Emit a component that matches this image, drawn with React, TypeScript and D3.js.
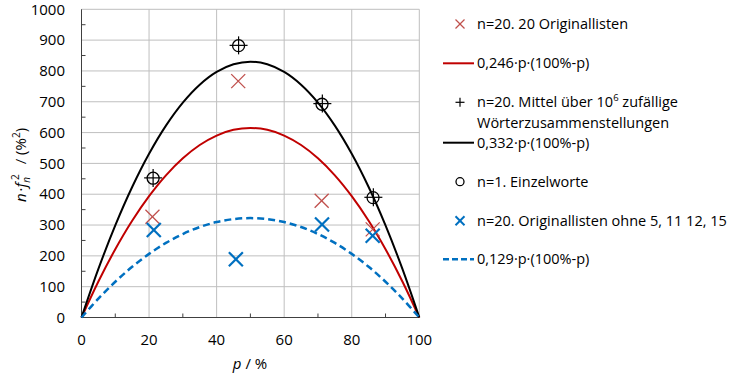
import React from "react";
import * as d3 from "d3";

const pGrid = [0, 5, 10, 15, 20, 25, 30, 35, 40, 45, 50, 55, 60, 65, 70, 75, 80, 85, 90, 95, 100];
const blackCurve = [0, 157.7, 298.8, 423.3, 531.2, 622.5, 697.2, 755.3, 796.8, 821.7, 830, 821.7, 796.8, 755.3, 697.2, 622.5, 531.2, 423.3, 298.8, 157.7, 0];
const redCurve = [0, 116.9, 221.4, 313.7, 393.6, 461.3, 516.6, 559.7, 590.4, 608.9, 615, 608.9, 590.4, 559.7, 516.6, 461.3, 393.6, 313.7, 221.4, 116.9, 0];
const blueCurve = [0, 61.3, 116.1, 164.5, 206.4, 241.9, 270.9, 293.5, 309.6, 319.3, 322.5, 319.3, 309.6, 293.5, 270.9, 241.9, 206.4, 164.5, 116.1, 61.3, 0];

const redP = [21.0, 46.4, 71.1, 86.2];
const redV = [327, 767, 379, 286];
const plusP = [21.2, 46.5, 71.3, 86.4];
const plusV = [453, 883, 694, 390];
const circP = [21.2, 46.5, 71.2, 86.3];
const circV = [452, 882, 692, 389];
const blueP = [21.4, 45.7, 71.2, 86.2];
const blueV = [284, 189, 302, 265];

const xTicks = [0, 20, 40, 60, 80, 100];
const xMinor = [10, 30, 50, 70, 90];
const yTicks = [0, 100, 200, 300, 400, 500, 600, 700, 800, 900, 1000];
const yMinor = [50, 150, 250, 350, 450, 550, 650, 750, 850, 950];

const legendLabels = [
  "n=20. 20 Originallisten",
  "0,246·p·(100%-p)",
  "n=20. Mittel über 10",
  "Wörterzusammenstellungen",
  "0,332·p·(100%-p)",
  "n=1. Einzelworte",
  "n=20. Originallisten ohne 5, 11 12, 15",
  "0,129·p·(100%-p)",
];

const RED_X = "#C0504D";
const RED = "#C00000";
const BLUE = "#0070C0";
const FONT = "'Open Sans', 'Liberation Sans', sans-serif";

export default function App() {
  const W = 739, H = 377;
  const x = d3.scaleLinear().domain([0, 100]).range([81.5, 419.3]);
  const y = d3.scaleLinear().domain([0, 1000]).range([317.5, 9.3]);
  const line = (vals: number[]) =>
    d3.line<number>().x((_, i) => x(pGrid[i])).y((v) => y(v)).curve(d3.curveCatmullRom)(vals) || "";

  const xMark = (cx: number, cy: number, r: number, color: string, w: number, key: string) => (
    <g key={key} stroke={color} strokeWidth={w}>
      <line x1={cx - r} y1={cy - r} x2={cx + r} y2={cy + r} />
      <line x1={cx - r} y1={cy + r} x2={cx + r} y2={cy - r} />
    </g>
  );
  const plusMark = (cx: number, cy: number, r: number, key: string) => (
    <g key={key} stroke="#000" strokeWidth={1.2}>
      <line x1={cx - r} y1={cy} x2={cx + r} y2={cy} />
      <line x1={cx} y1={cy - r} x2={cx} y2={cy + r} />
    </g>
  );

  const lx = 477;
  const rows = [24, 63.3, 102.3, 122.7, 142.7, 181.7, 220.7, 259.3];

  return (
    <svg width={W} height={H} style={{ position: "absolute", left: 0, top: 0 }} fontFamily={FONT}>
      <rect width={W} height={H} fill="#fff" />
      {yTicks.map((t) => (
        <line key={"gy" + t} x1={x(0)} x2={x(100)} y1={y(t)} y2={y(t)} stroke="#BFBFBF" strokeWidth={1} />
      ))}
      {xTicks.map((t) => (
        <line key={"gx" + t} x1={x(t)} x2={x(t)} y1={y(0)} y2={y(1000)} stroke="#BFBFBF" strokeWidth={1} />
      ))}
      <line x1={x(0)} x2={x(100)} y1={y(0)} y2={y(0)} stroke="#404040" strokeWidth={1} />
      <line x1={x(0)} x2={x(0)} y1={y(0)} y2={y(1000)} stroke="#404040" strokeWidth={1} />
      {xMinor.map((t) => (
        <line key={"xm" + t} x1={x(t)} x2={x(t)} y1={y(0)} y2={y(0) - 4} stroke="#404040" strokeWidth={1} />
      ))}
      {yMinor.map((t) => (
        <line key={"ym" + t} x1={x(0)} x2={x(0) + 4} y1={y(t)} y2={y(t)} stroke="#404040" strokeWidth={1} />
      ))}
      {yTicks.map((t) => (
        <text key={"yl" + t} x={65} y={y(t)} dy="0.35em" textAnchor="end" fontSize={15} fill="#000">{t}</text>
      ))}
      {xTicks.map((t) => (
        <text key={"xl" + t} x={x(t)} y={345} textAnchor="middle" fontSize={15} fill="#000">{t}</text>
      ))}
      <text x={250} y={369} textAnchor="middle" fontSize={15}>
        <tspan fontStyle="italic">p</tspan> / %
      </text>
      <text transform="translate(26,165) rotate(-90)" textAnchor="middle" fontSize={15}>
        <tspan fontStyle="italic">n</tspan>
        <tspan dx={2}>·</tspan>
        <tspan fontStyle="italic">f</tspan>
        <tspan fontStyle="italic" fontSize={10} dy={4}>n</tspan>
        <tspan fontSize={10} dy={-11} dx={-3}>2</tspan>
        <tspan dy={7} dx={10}>/ (%</tspan>
        <tspan fontSize={10} dy={-6}>2</tspan>
        <tspan dy={6}>)</tspan>
      </text>
      <path d={line(redCurve)} fill="none" stroke={RED} strokeWidth={2} />
      <path d={line(blackCurve)} fill="none" stroke="#000" strokeWidth={2} />
      <path d={line(blueCurve)} fill="none" stroke={BLUE} strokeWidth={2.5} strokeDasharray="7,4" />
      {redP.map((p, i) => xMark(x(p), y(redV[i]), 7, RED_X, 1.3, "rx" + i))}
      {blueP.map((p, i) => xMark(x(p), y(blueV[i]), 7, BLUE, 2.2, "bx" + i))}
      {circP.map((p, i) => (
        <circle key={"c" + i} cx={x(p)} cy={y(circV[i])} r={6} fill="none" stroke="#000" strokeWidth={1.3} />
      ))}
      {plusP.map((p, i) => plusMark(x(p), y(plusV[i]), 9, "p" + i))}
      {xMark(460, rows[0], 4.5, RED_X, 1.3, "lg0")}
      <line x1={443} x2={474} y1={rows[1]} y2={rows[1]} stroke={RED} strokeWidth={2} />
      {plusMark(460, rows[2], 4.5, "lg2")}
      <line x1={443} x2={474} y1={rows[4]} y2={rows[4]} stroke="#000" strokeWidth={2} />
      <circle cx={460} cy={rows[5]} r={4} fill="none" stroke="#000" strokeWidth={1.3} />
      {xMark(460, rows[6], 4.5, BLUE, 2, "lg6")}
      <line x1={443} x2={474} y1={rows[7]} y2={rows[7]} stroke={BLUE} strokeWidth={2.5} strokeDasharray="6,3" />
      {legendLabels.map((t, i) => (
        <text key={"lt" + i} x={lx} y={rows[i]} dy="0.35em" fontSize={14.5} fill="#000">
          {t}
          {i === 2 ? <><tspan fontSize={9.5} dy={-6}>6</tspan><tspan dy={6}> zufällige</tspan></> : null}
        </text>
      ))}
    </svg>
  );
}
